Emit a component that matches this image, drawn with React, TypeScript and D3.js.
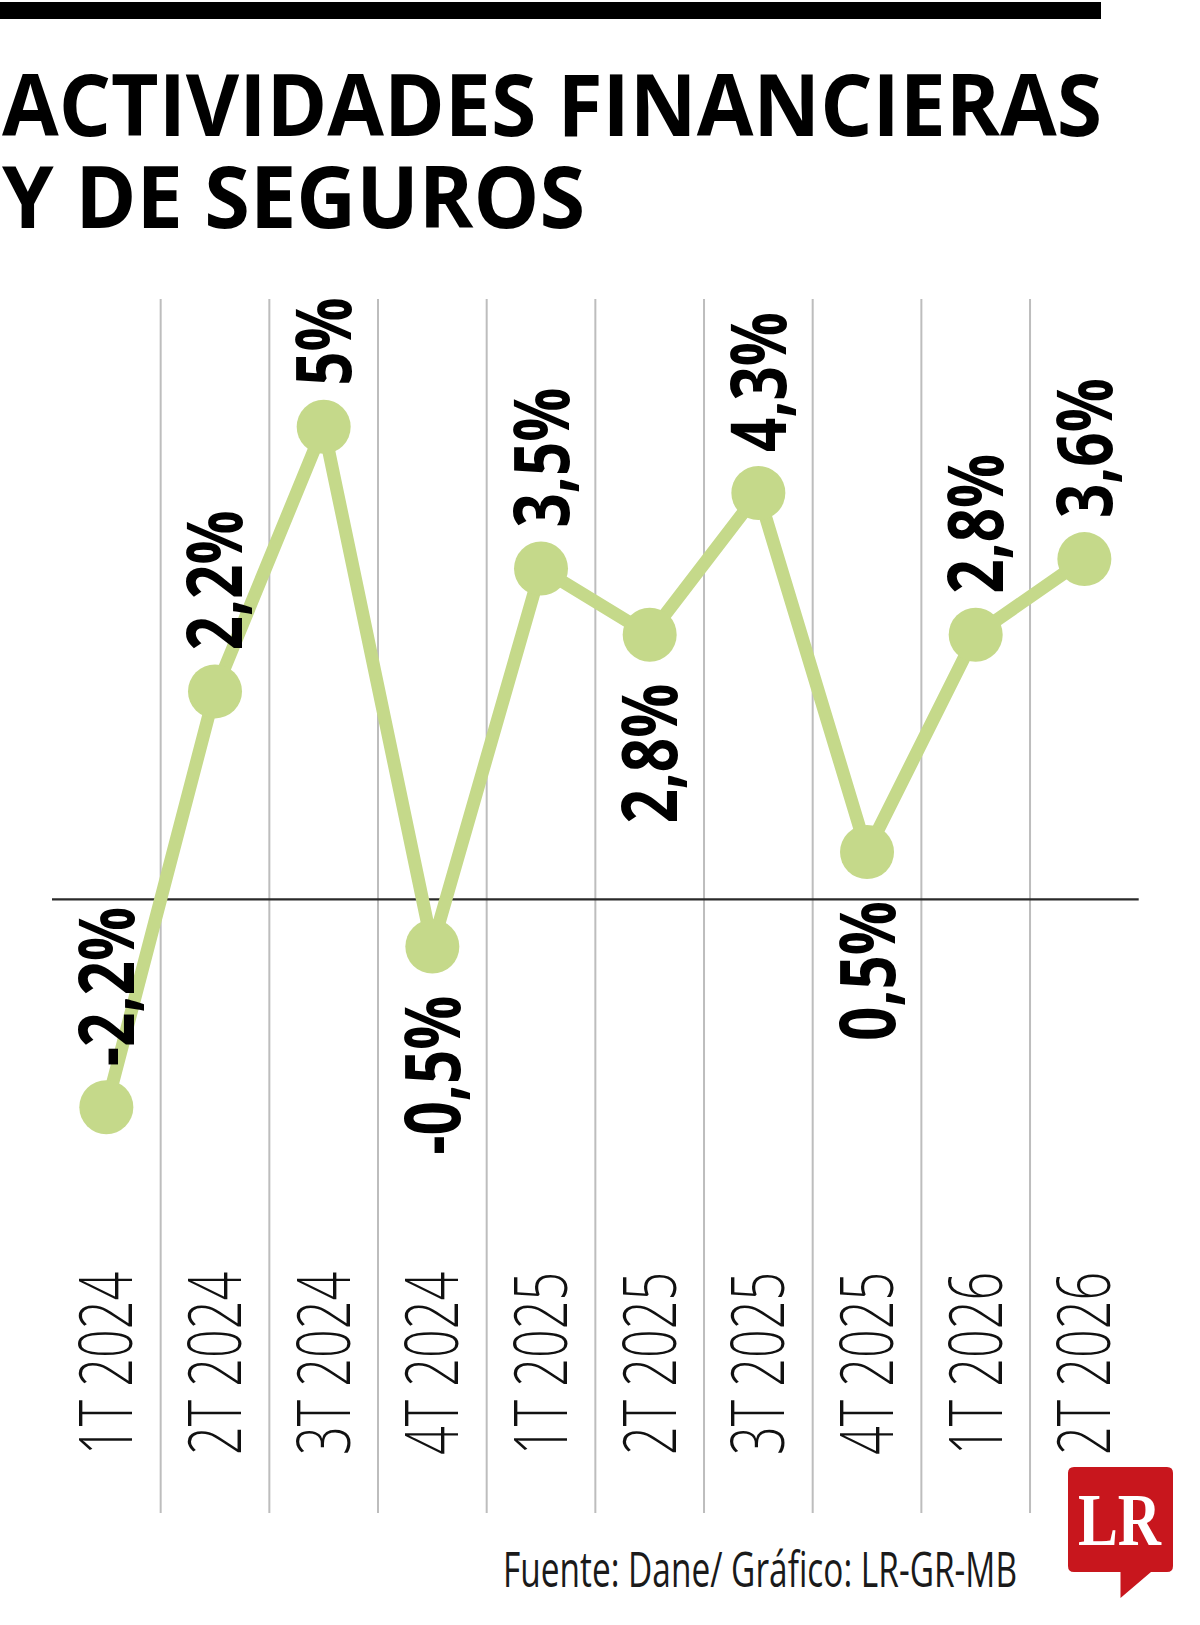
import React from "react";
import * as d3 from "d3";

const categories = ["1T 2024", "2T 2024", "3T 2024", "4T 2024", "1T 2025", "2T 2025", "3T 2025", "4T 2025", "1T 2026", "2T 2026"];
const values = [-2.2, 2.2, 5, -0.5, 3.5, 2.8, 4.3, 0.5, 2.8, 3.6];
const valueLabels = ["-2,2%", "2,2%", "5%", "-0,5%", "3,5%", "2,8%", "4,3%", "0,5%", "2,8%", "3,6%"];
const labelSides = ["above", "above", "above", "below", "above", "below", "above", "below", "above", "above"];
const titleLines = ["ACTIVIDADES FINANCIERAS", "Y DE SEGUROS"];
const sourceText = "Fuente: Dane/ Gráfico: LR-GR-MB";
const logoText = "LR";

const W = 1200;
const H = 1625;
const GREEN = "#c5d98a";
const R = 27;

export default function App() {
  const x = d3.scaleBand<string>().domain(categories).range([52, 1138.7]).paddingInner(0).paddingOuter(0);
  const bw = x.bandwidth();
  const cx = (i: number) => (x(categories[i]) as number) + bw / 2;
  const y = d3.scaleLinear().domain([0, 5]).range([899.3, 426.8]);

  const line = d3
    .line<number>()
    .x((_, i) => cx(i))
    .y((d) => y(d));

  const sans = "'Open Sans', 'Noto Sans', sans-serif";

  return (
    <svg
      width={W}
      height={H}
      viewBox={`0 0 ${W} ${H}`}
      style={{ position: "absolute", left: 0, top: 0, display: "block", background: "#fff" }}
    >
      <rect x={0} y={0} width={W} height={H} fill="#fff" />
      {/* top bar */}
      <rect x={0} y={2} width={1101} height={17} fill="#000" />

      {/* title */}
      {titleLines.map((t, i) => (
        <text
          key={t}
          x={2}
          y={i === 0 ? 136 : 228}
          fontFamily={sans}
          fontWeight={700}
          fontSize={86}
          fill="#000"
          textLength={i === 0 ? 1100 : 583}
          lengthAdjust="spacingAndGlyphs"
        >
          {t}
        </text>
      ))}

      {/* vertical gridlines */}
      {categories.slice(1).map((c) => (
        <line
          key={c}
          x1={x(c) as number}
          x2={x(c) as number}
          y1={299}
          y2={1513}
          stroke="#bdbdbd"
          strokeWidth={2}
        />
      ))}

      {/* zero line */}
      <line x1={x.range()[0]} x2={x.range()[1]} y1={y(0)} y2={y(0)} stroke="#2a2a2a" strokeWidth={2.2} />

      {/* line */}
      <path d={line(values) || ""} fill="none" stroke={GREEN} strokeWidth={13} strokeLinejoin="round" />

      {/* points */}
      {values.map((v, i) => (
        <circle key={i} cx={cx(i)} cy={y(v)} r={R} fill={GREEN} />
      ))}

      {/* value labels */}
      {values.map((v, i) => {
        const above = labelSides[i] === "above";
        const ty = above ? y(v) - R - 14 : y(v) + R + 22;
        return (
          <text
            key={i}
            transform={`translate(${cx(i)},${ty}) rotate(-90) scale(0.78,1)`}
            textAnchor={above ? "start" : "end"}
            dy="0.357em"
            fontFamily={sans}
            fontWeight={700}
            fontSize={77}
            fill="#000"
          >
            {valueLabels[i]}
          </text>
        );
      })}

      {/* axis labels */}
      {categories.map((c, i) => (
        <text
          key={c}
          transform={`translate(${cx(i)},1455) rotate(-90) scale(0.69,1)`}
          textAnchor="start"
          dy="0.357em"
          fontFamily={sans}
          fontWeight={300}
          fontSize={73}
          fill="#111"
        >
          {c}
        </text>
      ))}

      {/* source */}
      <text
        x={503}
        y={1587}
        fontFamily={sans}
        fontWeight={400}
        fontSize={49}
        fill="#1a1a1a"
        textLength={514}
        lengthAdjust="spacingAndGlyphs"
      >
        {sourceText}
      </text>

      {/* logo */}
      <path
        d="M1074,1467 H1167 Q1173,1467 1173,1473 V1566 Q1173,1572 1167,1572 H1151 L1120.5,1598 V1572 H1074 Q1068,1572 1068,1566 V1473 Q1068,1467 1074,1467 Z"
        fill="#c8161d"
      />
      <text
        x={1078}
        y={1545}
        fontFamily="'Liberation Serif', 'DejaVu Serif', serif"
        fontWeight={700}
        fontSize={75}
        fill="#fff"
        textLength={83}
        lengthAdjust="spacingAndGlyphs"
      >
        {logoText}
      </text>
    </svg>
  );
}
